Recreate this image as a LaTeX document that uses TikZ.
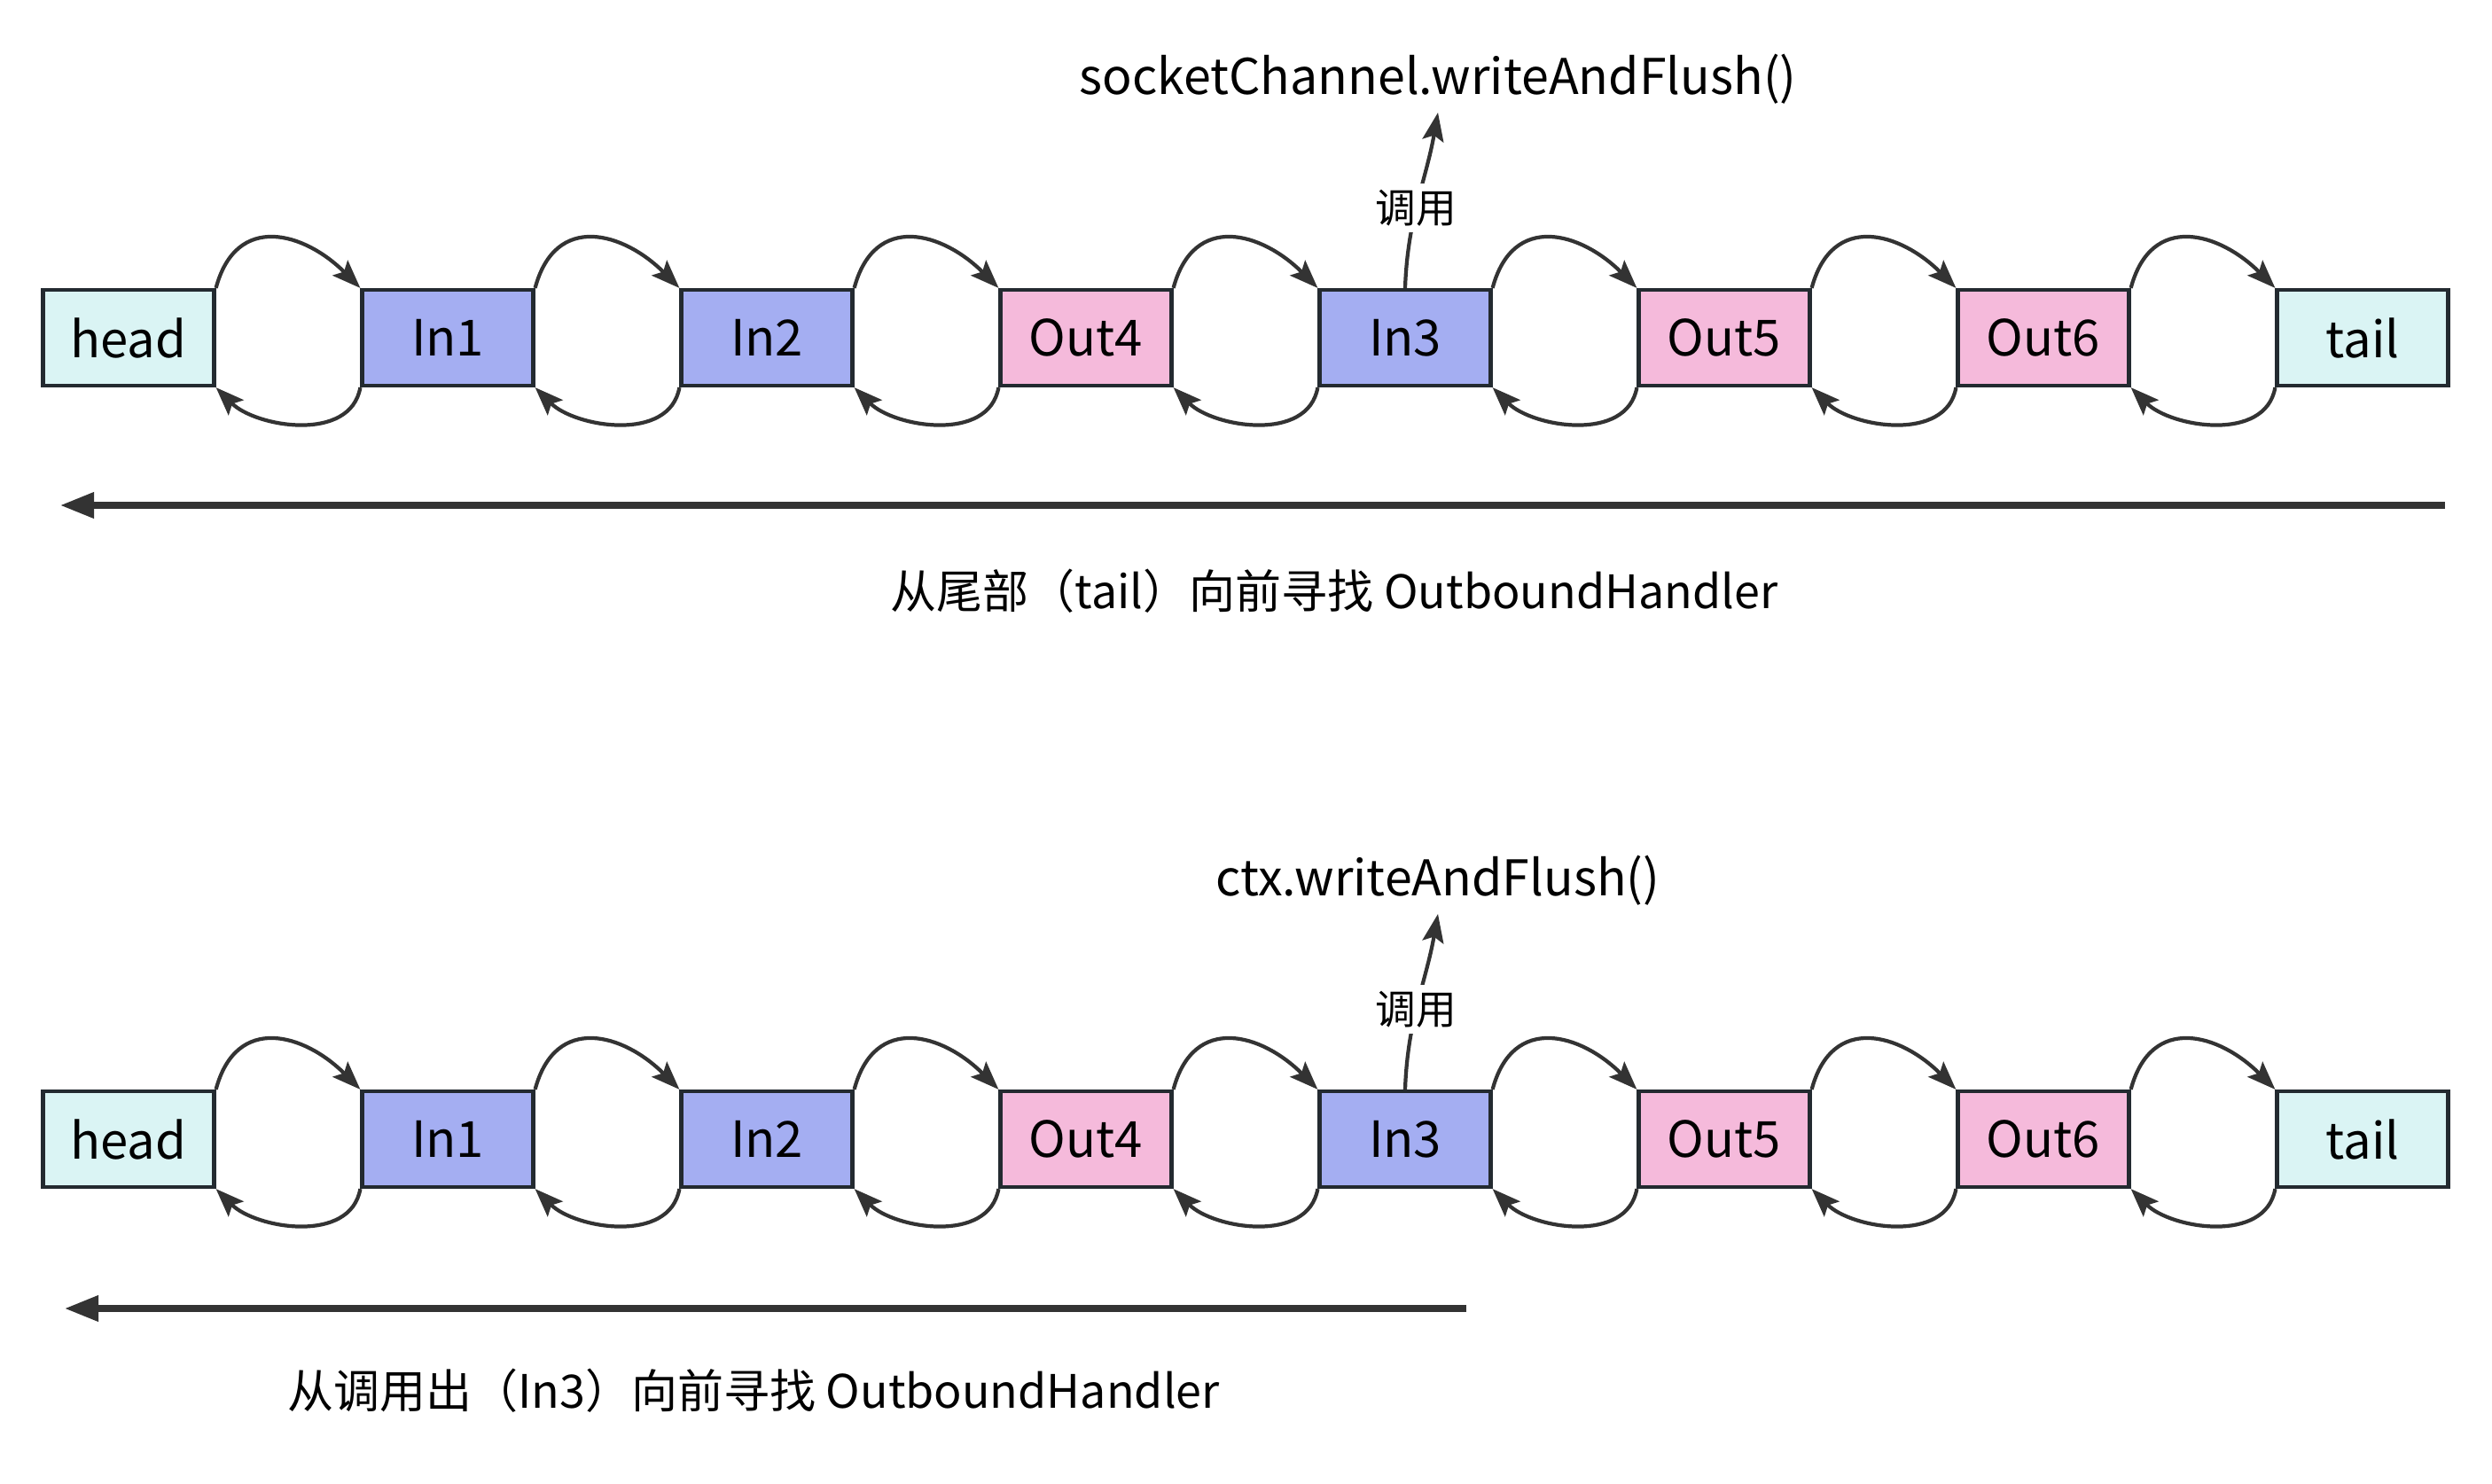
\documentclass[tikz,border=0pt]{standalone}
\usepackage{fontspec}
\setmainfont{Noto Sans CJK SC}
\usetikzlibrary{shapes,arrows.meta}
\definecolor{endfill}{HTML}{DAF4F4}
\definecolor{infill}{HTML}{A4AEF2}
\definecolor{outfill}{HTML}{F5BADB}
\definecolor{linegray}{HTML}{333333}
\definecolor{edgecol}{HTML}{232A30}
\tikzstyle{endblock} = [draw=edgecol, line width=1.2pt, fill=endfill, rectangle,
    minimum height=1.08cm, minimum width=1.93cm, font=\fontsize{16}{18}\selectfont]
\tikzstyle{inblock} = [endblock, fill=infill]
\tikzstyle{outblock} = [endblock, fill=outfill]
\tikzstyle{link} = [draw=linegray, line width=1.2pt,
    -{Stealth[length=3.2mm, width=2.4mm, inset=0.6mm]}]
\tikzstyle{fwd} = [link, out=75, in=135, looseness=1.4]
\tikzstyle{bwd} = [link, out=-100, in=-45]
\tikzstyle{scan} = [draw=linegray, line width=2pt,
    -{Triangle[length=3.8mm, width=2.8mm]}]
\tikzstyle{calltext} = [anchor=south, inner sep=0.09cm, font=\fontsize{15.8}{18}\selectfont]
\tikzstyle{callmark} = [pos=0.45, fill=white, inner sep=2pt, font=\fontsize{13}{15}\selectfont]

\begin{document}
\begin{tikzpicture}
\useasboundingbox (0,0) rectangle (28.11,16.73);

% top pipeline
\node[endblock, name=headA] at (1.45,12.92) {head};
\node[inblock, name=in1A] at (5.05,12.92) {In1};
\node[inblock, name=in2A] at (8.65,12.92) {In2};
\node[outblock, name=out4A] at (12.25,12.92) {Out4};
\node[inblock, name=in3A] at (15.85,12.92) {In3};
\node[outblock, name=out5A] at (19.45,12.92) {Out5};
\node[outblock, name=out6A] at (23.05,12.92) {Out6};
\node[endblock, name=tailA] at (26.65,12.92) {tail};

\draw[fwd] (headA.north east) to (in1A.north west);
\draw[fwd] (in1A.north east) to (in2A.north west);
\draw[fwd] (in2A.north east) to (out4A.north west);
\draw[fwd] (out4A.north east) to (in3A.north west);
\draw[fwd] (in3A.north east) to (out5A.north west);
\draw[fwd] (out5A.north east) to (out6A.north west);
\draw[fwd] (out6A.north east) to (tailA.north west);

\draw[bwd] (in1A.south west) to (headA.south east);
\draw[bwd] (in2A.south west) to (in1A.south east);
\draw[bwd] (out4A.south west) to (in2A.south east);
\draw[bwd] (in3A.south west) to (out4A.south east);
\draw[bwd] (out5A.south west) to (in3A.south east);
\draw[bwd] (out6A.south west) to (out5A.south east);
\draw[bwd] (tailA.south west) to (out6A.south east);

\node[calltext, name=callA] at (16.22,15.46) {socketChannel.writeAndFlush()};
\draw[link] (in3A.north) to[out=88, in=-100] node[callmark] {调用} (callA.south);

\coordinate (scanAR) at (27.58,11.03);
\coordinate (scanAL) at (0.68,11.03);
\draw[scan] (scanAR) -- (scanAL);
\node[font=\fontsize{14.8}{18}\selectfont, name=noteA] at (15.05,10.06) {从尾部（tail）向前寻找 OutboundHandler};

% bottom pipeline
\node[endblock, name=headB] at (1.45,3.88) {head};
\node[inblock, name=in1B] at (5.05,3.88) {In1};
\node[inblock, name=in2B] at (8.65,3.88) {In2};
\node[outblock, name=out4B] at (12.25,3.88) {Out4};
\node[inblock, name=in3B] at (15.85,3.88) {In3};
\node[outblock, name=out5B] at (19.45,3.88) {Out5};
\node[outblock, name=out6B] at (23.05,3.88) {Out6};
\node[endblock, name=tailB] at (26.65,3.88) {tail};

\draw[fwd] (headB.north east) to (in1B.north west);
\draw[fwd] (in1B.north east) to (in2B.north west);
\draw[fwd] (in2B.north east) to (out4B.north west);
\draw[fwd] (out4B.north east) to (in3B.north west);
\draw[fwd] (in3B.north east) to (out5B.north west);
\draw[fwd] (out5B.north east) to (out6B.north west);
\draw[fwd] (out6B.north east) to (tailB.north west);

\draw[bwd] (in1B.south west) to (headB.south east);
\draw[bwd] (in2B.south west) to (in1B.south east);
\draw[bwd] (out4B.south west) to (in2B.south east);
\draw[bwd] (in3B.south west) to (out4B.south east);
\draw[bwd] (out5B.south west) to (in3B.south east);
\draw[bwd] (out6B.south west) to (out5B.south east);
\draw[bwd] (tailB.south west) to (out6B.south east);

\node[calltext, name=callB] at (16.22,6.42) {ctx.writeAndFlush()};
\draw[link] (in3B.north) to[out=88, in=-100] node[callmark] {调用} (callB.south);

\coordinate (scanBR) at (16.54,1.97);
\coordinate (scanBL) at (0.73,1.97);
\draw[scan] (scanBR) -- (scanBL);
\node[font=\fontsize{14.8}{18}\selectfont, name=noteB] at (8.50,1.04) {从调用出（In3）向前寻找 OutboundHandler};
\end{tikzpicture}
\end{document}
